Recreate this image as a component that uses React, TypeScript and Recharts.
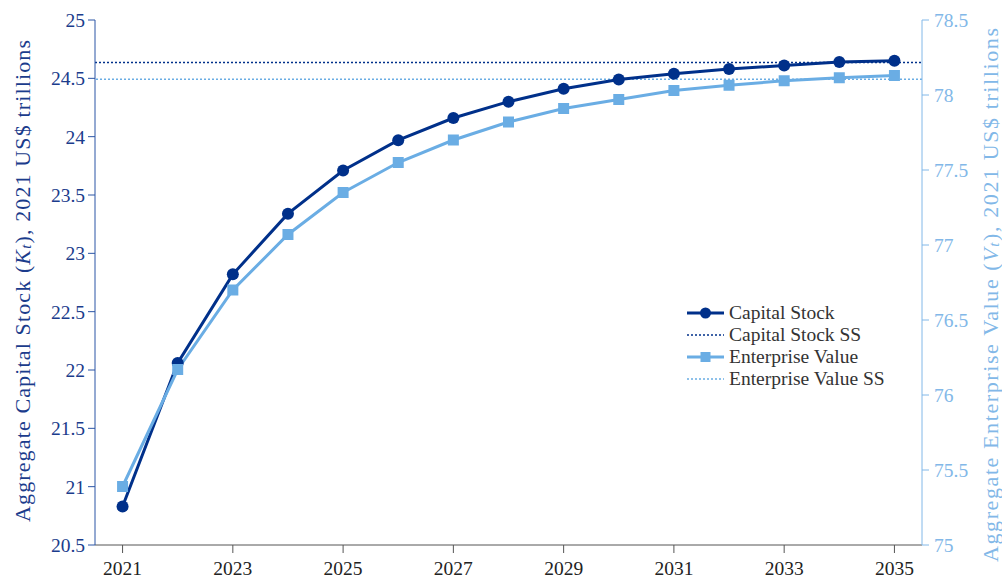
import React from "react";
import { LineChart, Line, XAxis, YAxis, ReferenceLine, Legend } from "recharts";

const years = [2021, 2022, 2023, 2024, 2025, 2026, 2027, 2028, 2029, 2030, 2031, 2032, 2033, 2034, 2035];
const capitalStock = [20.83, 22.06, 22.82, 23.34, 23.71, 23.97, 24.16, 24.3, 24.41, 24.49, 24.54, 24.58, 24.61, 24.64, 24.65];
const enterpriseValue = [75.39, 76.17, 76.7, 77.07, 77.35, 77.55, 77.7, 77.82, 77.91, 77.97, 78.03, 78.065, 78.095, 78.115, 78.13];
const capitalSS = 24.635;
const enterpriseSS = 78.105;

const xTicks = [2021, 2023, 2025, 2027, 2029, 2031, 2033, 2035];
const leftTicks = [20.5, 21, 21.5, 22, 22.5, 23, 23.5, 24, 24.5, 25];
const rightTicks = [75, 75.5, 76, 76.5, 77, 77.5, 78, 78.5];

const NAVY = "#00308a";
const LIGHT = "#6aade4";
const LEFT_AXIS = "#2b55a5";
const LEFT_TEXT = "#1b3c8c";
const RIGHT_AXIS = "#82b8e8";
const FONT = "'Liberation Serif', 'Times New Roman', serif";

const data = years.map((y, i) => ({ year: y, capital: capitalStock[i], ev: enterpriseValue[i] }));

const legendItems = [
  { label: "Capital Stock", color: NAVY, kind: "circle" },
  { label: "Capital Stock SS", color: NAVY, kind: "dotted" },
  { label: "Enterprise Value", color: LIGHT, kind: "square" },
  { label: "Enterprise Value SS", color: LIGHT, kind: "dotted" },
];

function SquareDot(props: any) {
  const { cx, cy, index } = props;
  if (cx == null || cy == null) return <g key={`sq-${index}`} />;
  return <rect key={`sq-${index}`} x={cx - 5.5} y={cy - 5.5} width={11} height={11} fill={LIGHT} />;
}

function renderLegend() {
  return (
    <div style={{ fontFamily: FONT, fontSize: 19.5, color: "#333", lineHeight: "22px" }}>
      {legendItems.map((it) => (
        <div key={it.label} style={{ display: "flex", alignItems: "center", height: 22 }}>
          <svg width={40} height={14} style={{ marginRight: 3 }}>
            {it.kind === "dotted" ? (
              <line x1={1} y1={7} x2={38} y2={7} stroke={it.color} strokeWidth={1.5} strokeDasharray="2 2" />
            ) : (
              <line x1={1} y1={7} x2={38} y2={7} stroke={it.color} strokeWidth={3} />
            )}
            {it.kind === "circle" && <circle cx={19.5} cy={7} r={5.5} fill={it.color} />}
            {it.kind === "square" && <rect x={14.5} y={2} width={10} height={10} fill={it.color} />}
          </svg>
          <span>{it.label}</span>
        </div>
      ))}
    </div>
  );
}

function AxisTitle({ viewBox, offsetX, centerY, length, color, symbol, rest }: any) {
  const cx = viewBox.x + offsetX;
  const cy = centerY;
  return (
    <text
      x={cx}
      y={cy}
      transform={`rotate(-90 ${cx} ${cy})`}
      textAnchor="middle"
      dominantBaseline="central"
      fill={color}
      fontSize={22}
      textLength={length}
      lengthAdjust="spacing"
    >
      {rest[0]}
      <tspan fontStyle="italic">{symbol}</tspan>
      <tspan fontStyle="italic" fontSize={15} dy={4}>t</tspan>
      <tspan dy={-4}>{rest[1]}</tspan>
    </text>
  );
}

const tickStyle = { fontSize: 19.5 };

export default function App() {
  return (
    <div style={{ position: "absolute", left: 0, top: 0, width: 1002, height: 579, background: "#fff", fontFamily: FONT }}>
      <style>{`.recharts-wrapper text, .recharts-wrapper tspan { font-family: 'Liberation Serif', 'Times New Roman', serif !important; }`}</style>
      <LineChart width={1002} height={579} data={data} margin={{ top: 20, right: 0, bottom: 0, left: 0 }}>
        <XAxis
          dataKey="year"
          type="number"
          domain={[2020.5, 2035.5]}
          ticks={xTicks}
          height={34}
          tickSize={8}
          tickMargin={8}
          axisLine={{ stroke: "#555" }}
          tickLine={{ stroke: "#555" }}
          tick={{ fill: "#222", ...tickStyle }}
        />
        <YAxis
          yAxisId="left"
          orientation="left"
          width={95}
          domain={[20.5, 25]}
          ticks={leftTicks}
          tickSize={7}
          tickMargin={3}
          axisLine={{ stroke: LEFT_AXIS }}
          tickLine={{ stroke: LEFT_AXIS }}
          tick={{ fill: LEFT_TEXT, ...tickStyle }}
          label={{
            content: (p: any) => (
              <AxisTitle viewBox={p.viewBox} offsetX={22} centerY={281} length={482} color={LEFT_TEXT} symbol="K"
                rest={["Aggregate Capital Stock (", "), 2021 US$ trillions"]} />
            ),
          }}
        />
        <YAxis
          yAxisId="right"
          orientation="right"
          width={80}
          domain={[75, 78.5]}
          ticks={rightTicks}
          tickSize={7}
          tickMargin={5}
          axisLine={{ stroke: RIGHT_AXIS }}
          tickLine={{ stroke: RIGHT_AXIS }}
          tick={{ fill: RIGHT_AXIS, ...tickStyle }}
          label={{
            content: (p: any) => (
              <AxisTitle viewBox={p.viewBox} offsetX={68} centerY={295} length={534} color={RIGHT_AXIS} symbol="V"
                rest={["Aggregate Enterprise Value (", "), 2021 US$ trillions"]} />
            ),
          }}
        />
        <ReferenceLine yAxisId="left" y={capitalSS} stroke={NAVY} strokeWidth={1.5} strokeDasharray="2 2" />
        <ReferenceLine yAxisId="right" y={enterpriseSS} stroke={LIGHT} strokeWidth={1.5} strokeDasharray="2 2" />
        <Line
          yAxisId="left"
          dataKey="capital"
          name="Capital Stock"
          stroke={NAVY}
          strokeWidth={3}
          dot={{ r: 6, fill: NAVY, stroke: "none" }}
          activeDot={false}
          isAnimationActive={false}
        />
        <Line
          yAxisId="right"
          dataKey="ev"
          name="Enterprise Value"
          stroke={LIGHT}
          strokeWidth={3}
          dot={<SquareDot />}
          activeDot={false}
          isAnimationActive={false}
        />
        <Legend
          layout="vertical"
          align="center"
          verticalAlign="middle"
          content={renderLegend}
          wrapperStyle={{ left: 686, top: 302, width: 260 }}
        />
      </LineChart>
    </div>
  );
}
